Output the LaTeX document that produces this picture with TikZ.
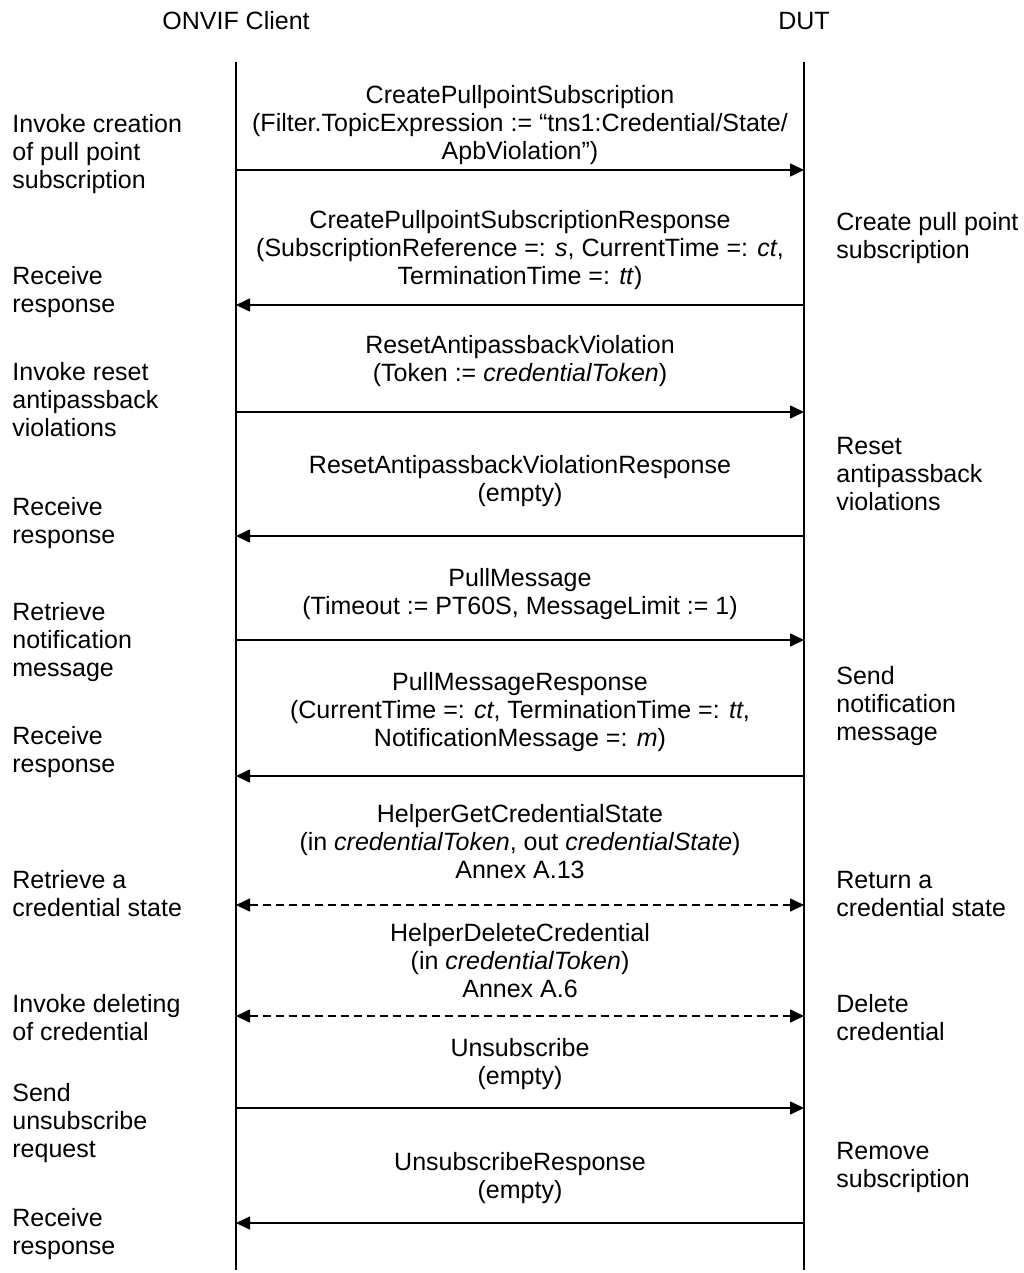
\documentclass[tikz,border=0pt]{standalone}
\usepackage{fontspec}
\setmainfont{Liberation Sans}
\usetikzlibrary{arrows.meta,positioning}

\tikzset{
  lifeline/.style={line width=0.9pt},
  msg/.style={line width=0.8pt, -{Triangle[length=7pt,width=6.5pt]}},
  helper/.style={line width=0.8pt, dash pattern=on 4pt off 2.5pt, {Triangle[length=7pt,width=6.5pt]}-{Triangle[length=7pt,width=6.5pt]}},
  txt/.style={inner sep=0pt, font=\fontsize{12.5}{14}\selectfont},
  msglabel/.style={txt, align=center},
  note/.style={txt, align=left, anchor=west},
}

\begin{document}
\begin{tikzpicture}[x=0.5pt, y=-0.5pt]
  \useasboundingbox (0,0) rectangle (1023,1273);

  \node[txt] (client) at (236,21) {ONVIF Client};
  \node[txt] (dut) at (804,21) {DUT};
  \coordinate (clienttop) at (236,62);
  \coordinate (clientbot) at (236,1270);
  \coordinate (duttop) at (804,62);
  \coordinate (dutbot) at (804,1270);
  \draw[lifeline] (clienttop) -- (clientbot);
  \draw[lifeline] (duttop) -- (dutbot);

  \foreach \y [count=\i] in {170,305,412,536,640,776,905,1016,1108,1223} {
    \coordinate (c\i) at (236,\y);
    \coordinate (d\i) at (804,\y);
  }

  \node[msglabel] (m1) at (520,125) {CreatePullpointSubscription\\(Filter.TopicExpression := “tns1:Credential/State/\\ApbViolation”)};
  \node[msglabel] (m2) at (520,250) {CreatePullpointSubscriptionResponse\\(SubscriptionReference =: \textit{s}, CurrentTime =: \textit{ct},\\TerminationTime =: \textit{tt})};
  \node[msglabel] (m3) at (520,361) {ResetAntipassbackViolation\\(Token := \textit{credentialToken})};
  \node[msglabel] (m4) at (520,481) {ResetAntipassbackViolationResponse\\(empty)};
  \node[msglabel] (m5) at (520,594) {PullMessage\\(Timeout := PT60S, MessageLimit := 1)};
  \node[msglabel] (m6) at (520,712) {PullMessageResponse\\(CurrentTime =: \textit{ct}, TerminationTime =: \textit{tt},\\NotificationMessage =: \textit{m})};
  \node[msglabel] (m7) at (520,842) {HelperGetCredentialState\\(in \textit{credentialToken}, out \textit{credentialState})\\Annex A.13};
  \node[msglabel] (m8) at (520,961) {HelperDeleteCredential\\(in \textit{credentialToken})\\Annex A.6};
  \node[msglabel] (m9) at (520,1064) {Unsubscribe\\(empty)};
  \node[msglabel] (m10) at (520,1178) {UnsubscribeResponse\\(empty)};

  \draw[msg] (c1) -- (d1);
  \draw[msg] (d2) -- (c2);
  \draw[msg] (c3) -- (d3);
  \draw[msg] (d4) -- (c4);
  \draw[msg] (c5) -- (d5);
  \draw[msg] (d6) -- (c6);
  \draw[helper] (c7) -- (d7);
  \draw[helper] (c8) -- (d8);
  \draw[msg] (c9) -- (d9);
  \draw[msg] (d10) -- (c10);

  \node[note] (l1) at (12,154) {Invoke creation\\of pull point\\subscription};
  \node[note] (l2) at (12,292) {Receive\\response};
  \node[note] (l3) at (12,400) {Invoke reset\\antipassback\\violations};
  \node[note] (l4) at (12,523) {Receive\\response};
  \node[note] (l5) at (12,642) {Retrieve\\notification\\message};
  \node[note] (l6) at (12,752) {Receive\\response};
  \node[note] (l7) at (12,894) {Retrieve a\\credential state};
  \node[note] (l8) at (12,1018) {Invoke deleting\\of credential};
  \node[note] (l9) at (12,1123) {Send\\unsubscribe\\request};
  \node[note] (l10) at (12,1234) {Receive\\response};

  \node[note] (r1) at (836,238) {Create pull point\\subscription};
  \node[note] (r2) at (836,474) {Reset\\antipassback\\violations};
  \node[note] (r3) at (836,706) {Send\\notification\\message};
  \node[note] (r4) at (836,894) {Return a\\credential state};
  \node[note] (r5) at (836,1018) {Delete\\credential};
  \node[note] (r6) at (836,1167) {Remove\\subscription};
\end{tikzpicture}
\end{document}
